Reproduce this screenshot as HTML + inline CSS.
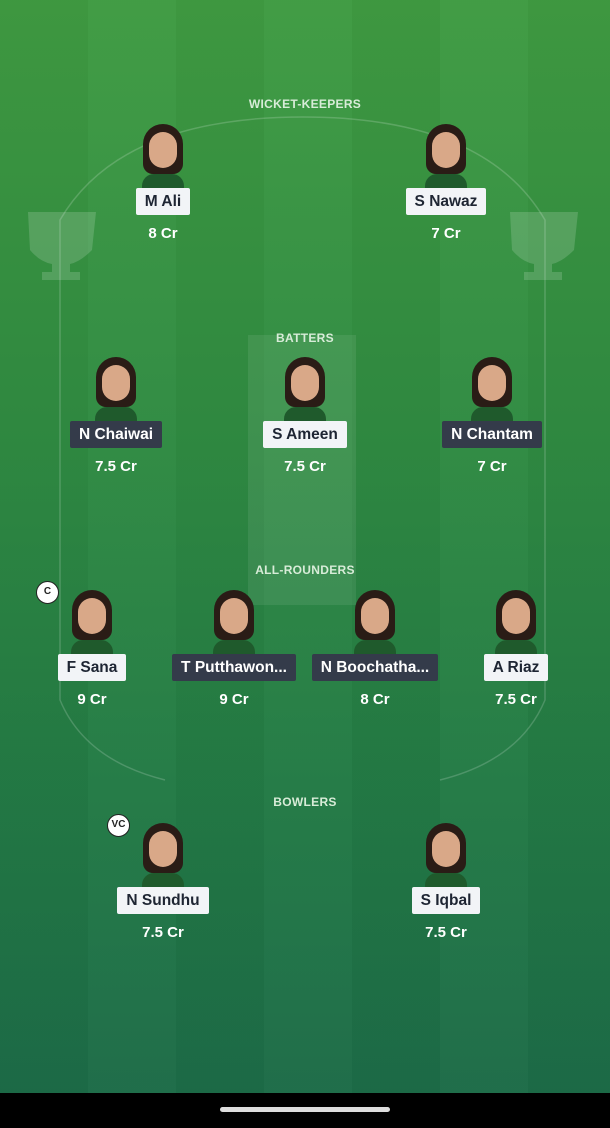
<!DOCTYPE html>
<html><head><meta charset="utf-8"><style>
*{margin:0;padding:0;box-sizing:border-box}
body{width:610px;height:1128px;overflow:hidden;font-family:"Liberation Sans",sans-serif;position:relative;background:linear-gradient(180deg,#3f9b42 0%,#2f8a42 40%,#237a45 70%,#1c6a48 100%)}
.stripes{position:absolute;left:0;top:0;width:610px;height:1093px;background:repeating-linear-gradient(90deg,rgba(0,0,0,0.025) 0 88px,rgba(255,255,255,0.015) 88px 176px)}
.sec{position:absolute;width:610px;text-align:center;color:#d8ecd8;font-size:12px;font-weight:bold;letter-spacing:.3px}
.p{position:absolute;width:140px;margin-left:-70px;text-align:center}
.face{position:relative;width:46px;height:64px;margin:0 auto}
.hair{position:absolute;left:3px;top:0;width:40px;height:50px;border-radius:20px 20px 10px 10px;background:#2a1c16}
.skin{position:absolute;left:9px;top:8px;width:28px;height:36px;border-radius:14px;background:#d9a888}
.jer{position:absolute;left:2px;top:50px;width:42px;height:14px;border-radius:12px 12px 0 0;background:#1f5a2c}
.lbl{display:inline-block;height:27px;line-height:27px;padding:0 9px;border-radius:2px;font-size:15.5px;font-weight:bold;white-space:nowrap}
.w{background:#f2f4f7;color:#1e2533}
.d{background:#343b4a;color:#fff}
.pr{color:#fff;font-size:15px;font-weight:bold;margin-top:10px}
.badge{position:absolute;width:23px;height:23px;border-radius:50%;background:#fff;border:1.5px solid #222;font-size:10px;font-weight:bold;text-align:center;line-height:20px;color:#222}
.bar{position:absolute;left:0;top:1093px;width:610px;height:35px;background:#000}
.pill{position:absolute;left:220px;top:1107px;width:170px;height:5px;border-radius:3px;background:#ddd}
</style></head><body>
<div class="stripes"></div>
<svg width="610" height="1093" style="position:absolute;left:0;top:0">
<path d="M60 290 L60 220 Q120 117 303 117 Q485 117 545 220 L545 700 Q520 760 440 780 M60 290 L60 700 Q85 760 165 780" fill="none" stroke="rgba(255,255,255,0.18)" stroke-width="1.5"/>
<rect x="248" y="335" width="108" height="270" fill="rgba(255,255,255,0.08)"/>
<g fill="rgba(255,255,255,0.16)">
<path d="M28 212 H96 L92 250 Q80 262 70 264 L70 272 H80 V280 H42 V272 H52 V264 Q40 262 30 250 Z"/>
<path d="M510 212 H578 L574 250 Q562 262 552 264 L552 272 H562 V280 H524 V272 H534 V264 Q522 262 512 250 Z"/>
</g>
</svg>
<div class="sec" style="top:97px">WICKET-KEEPERS</div>
<div class="sec" style="top:331px">BATTERS</div>
<div class="sec" style="top:563px">ALL-ROUNDERS</div>
<div class="sec" style="top:795px">BOWLERS</div>

<div class="p" style="left:163px;top:124px"><div class="face"><div class="hair"></div><div class="skin"></div><div class="jer"></div></div><span class="lbl w">M Ali</span><div class="pr">8 Cr</div></div>
<div class="p" style="left:446px;top:124px"><div class="face"><div class="hair"></div><div class="skin"></div><div class="jer"></div></div><span class="lbl w">S Nawaz</span><div class="pr">7 Cr</div></div>

<div class="p" style="left:116px;top:357px"><div class="face"><div class="hair"></div><div class="skin"></div><div class="jer"></div></div><span class="lbl d">N Chaiwai</span><div class="pr">7.5 Cr</div></div>
<div class="p" style="left:305px;top:357px"><div class="face"><div class="hair"></div><div class="skin"></div><div class="jer"></div></div><span class="lbl w">S Ameen</span><div class="pr">7.5 Cr</div></div>
<div class="p" style="left:492px;top:357px"><div class="face"><div class="hair"></div><div class="skin"></div><div class="jer"></div></div><span class="lbl d">N Chantam</span><div class="pr">7 Cr</div></div>

<div class="p" style="left:92px;top:590px"><div class="face"><div class="hair"></div><div class="skin"></div><div class="jer"></div></div><span class="lbl w">F Sana</span><div class="pr">9 Cr</div></div>
<div class="p" style="left:234px;top:590px"><div class="face"><div class="hair"></div><div class="skin"></div><div class="jer"></div></div><span class="lbl d">T Putthawon...</span><div class="pr">9 Cr</div></div>
<div class="p" style="left:375px;top:590px"><div class="face"><div class="hair"></div><div class="skin"></div><div class="jer"></div></div><span class="lbl d">N Boochatha...</span><div class="pr">8 Cr</div></div>
<div class="p" style="left:516px;top:590px"><div class="face"><div class="hair"></div><div class="skin"></div><div class="jer"></div></div><span class="lbl w">A Riaz</span><div class="pr">7.5 Cr</div></div>

<div class="p" style="left:163px;top:823px"><div class="face"><div class="hair"></div><div class="skin"></div><div class="jer"></div></div><span class="lbl w">N Sundhu</span><div class="pr">7.5 Cr</div></div>
<div class="p" style="left:446px;top:823px"><div class="face"><div class="hair"></div><div class="skin"></div><div class="jer"></div></div><span class="lbl w">S Iqbal</span><div class="pr">7.5 Cr</div></div>

<div class="badge" style="left:36px;top:581px">C</div>
<div class="badge" style="left:107px;top:814px">VC</div>
<div class="bar"></div><div class="pill"></div>
</body></html>
